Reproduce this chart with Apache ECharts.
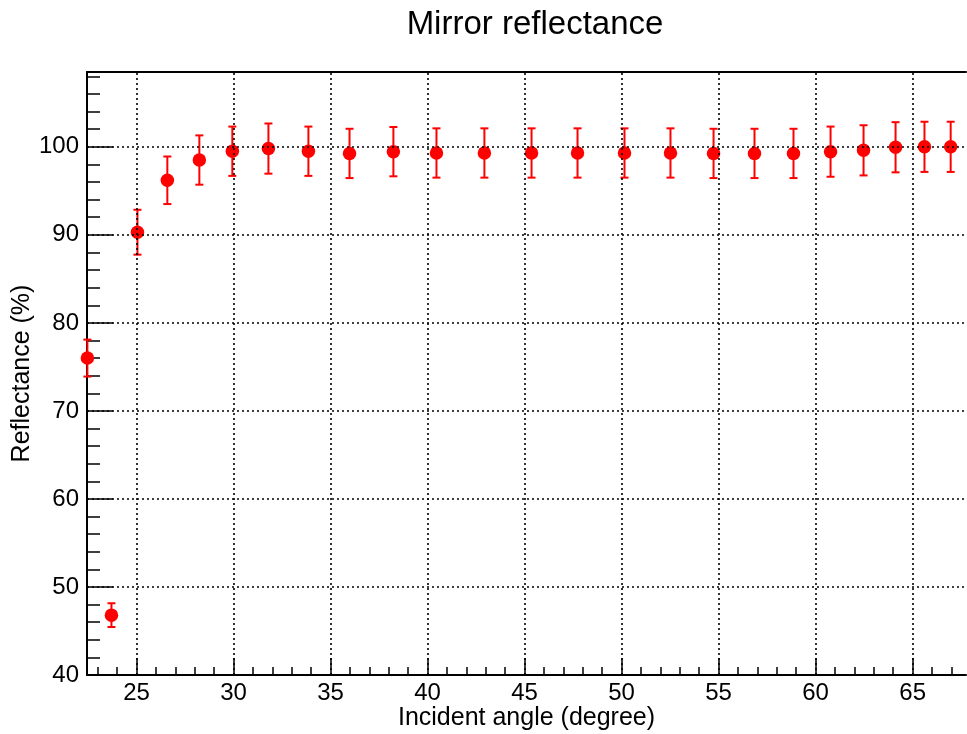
<!DOCTYPE html>
<html>
<head>
<meta charset="utf-8">
<title>Mirror reflectance</title>
<script src="https://cdn.jsdelivr.net/npm/echarts@6/dist/echarts.min.js"></script>
<style>
  html, body { margin: 0; padding: 0; background: #fff; }
  #main { width: 967px; height: 734px; }
</style>
</head>
<body>
<div id="main"></div>
<script>
// incident angle (degree) and measured reflectance (%) with errors
var angle = [22.47, 23.71, 25.05, 26.59, 28.24, 29.94, 31.8, 33.86, 35.98, 38.24, 40.46, 42.93,
  45.36, 47.73, 50.15, 52.52, 54.74, 56.85, 58.86, 60.77, 62.47, 64.12, 65.61, 66.96];
var reflectance = [76.0, 46.8, 90.3, 96.2, 98.5, 99.5, 99.8, 99.5, 99.25, 99.45, 99.3, 99.3,
  99.3, 99.3, 99.3, 99.3, 99.25, 99.25, 99.25, 99.45, 99.6, 99.95, 100.0, 100.0];
var errors = [2.1, 1.35, 2.55, 2.7, 2.8, 2.8, 2.85, 2.8, 2.8, 2.8, 2.8, 2.8,
  2.8, 2.8, 2.8, 2.8, 2.8, 2.8, 2.8, 2.85, 2.85, 2.85, 2.85, 2.85];

// tick labels
var xMajor = [25, 30, 35, 40, 45, 50, 55, 60, 65];
var xMinor = [23, 24, 26, 27, 28, 29, 31, 32, 33, 34, 36, 37, 38, 39, 41, 42, 43, 44,
  46, 47, 48, 49, 51, 52, 53, 54, 56, 57, 58, 59, 61, 62, 63, 64, 66, 67];
var yMajor = [40, 50, 60, 70, 80, 90, 100];
var yMinor = [42, 44, 46, 48, 52, 54, 56, 58, 62, 64, 66, 68, 72, 74, 76, 78,
  82, 84, 86, 88, 92, 94, 96, 98, 102, 104, 106, 108];
var yGrid = [50, 60, 70, 80, 90, 100];

var X_MIN = 22.45, X_MAX = 67.75, Y_MIN = 40, Y_MAX = 108.5;
var FONT = "'Liberation Sans', Arial, Helvetica, sans-serif";

var chart = echarts.init(document.getElementById('main'));

var points = angle.map(function (a, i) { return [a, reflectance[i]]; });
var bars = angle.map(function (a, i) {
  return [a, reflectance[i] - errors[i], reflectance[i] + errors[i]];
});

var gridLines = xMajor.map(function (v) { return { xAxis: v }; })
  .concat(yGrid.map(function (v) { return { yAxis: v }; }));

function renderErrorBar(params, api) {
  var x = api.value(0);
  var top = api.coord([x, api.value(2)]);
  var bot = api.coord([x, api.value(1)]);
  var w = 4;
  var style = { stroke: '#ff0000', lineWidth: 2 };
  return {
    type: 'group',
    children: [
      { type: 'line', shape: { x1: top[0], y1: top[1], x2: bot[0], y2: bot[1] }, style: style },
      { type: 'line', shape: { x1: top[0] - w, y1: top[1], x2: top[0] + w, y2: top[1] }, style: style },
      { type: 'line', shape: { x1: bot[0] - w, y1: bot[1], x2: bot[0] + w, y2: bot[1] }, style: style }
    ]
  };
}

function baseAxis(extra) {
  return Object.assign({
    type: 'value',
    splitLine: { show: false },
    axisLine: { show: false },
    axisLabel: { show: false },
    axisTick: { show: false }
  }, extra);
}

var option = {
  animation: false,
  backgroundColor: '#fff',
  title: {
    text: 'Mirror reflectance',
    left: 530,
    textAlign: 'center',
    top: 3,
    textStyle: { fontFamily: FONT, fontSize: 33, fontWeight: 'normal', color: '#000' }
  },
  grid: { left: 87, right: 1, top: 72, bottom: 59, outerBoundsMode: 'none', containLabel: false },
  xAxis: [
    baseAxis({
      min: X_MIN, max: X_MAX, position: 'bottom',
      name: 'Incident angle (degree)',
      nameLocation: 'middle',
      nameGap: 31,
      nameMoveOverlap: false,
      nameTextStyle: { fontFamily: FONT, fontSize: 25, color: '#000' },
      axisLine: { show: true, onZero: false, lineStyle: { color: '#000', width: 2 } },
      axisTick: { show: true, inside: true, length: 17, customValues: xMajor, lineStyle: { color: '#000', width: 1.5 } },
      axisLabel: { show: true, customValues: xMajor, margin: 6, fontFamily: FONT, fontSize: 24, color: '#000' }
    }),
    baseAxis({
      min: X_MIN, max: X_MAX, position: 'bottom',
      axisTick: { show: true, inside: true, length: 8, customValues: xMinor, lineStyle: { color: '#000', width: 1.5 } }
    }),
    baseAxis({
      min: X_MIN, max: X_MAX, position: 'top',
      axisLine: { show: true, onZero: false, lineStyle: { color: '#000', width: 2 } }
    })
  ],
  yAxis: [
    baseAxis({
      min: Y_MIN, max: Y_MAX, position: 'left',
      name: 'Reflectance (%)',
      nameLocation: 'middle',
      nameGap: 52,
      nameMoveOverlap: false,
      nameTextStyle: { fontFamily: FONT, fontSize: 25, color: '#000' },
      axisLine: { show: true, onZero: false, lineStyle: { color: '#000', width: 2 } },
      axisTick: { show: true, inside: true, length: 26, customValues: yMajor, lineStyle: { color: '#000', width: 1.5 } },
      axisLabel: { show: true, customValues: yMajor, margin: 8, fontFamily: FONT, fontSize: 24, color: '#000' }
    }),
    baseAxis({
      min: Y_MIN, max: Y_MAX, position: 'left',
      axisTick: { show: true, inside: true, length: 13, customValues: yMinor, lineStyle: { color: '#000', width: 1.5 } }
    })
  ],
  series: [
    {
      type: 'line',
      xAxisIndex: 0, yAxisIndex: 0,
      data: [],
      z: 1,
      silent: true,
      markLine: {
        silent: true,
        symbol: ['none', 'none'],
        label: { show: false },
        lineStyle: { color: '#000', width: 1.6, type: [2, 3] },
        data: gridLines
      }
    },
    {
      type: 'custom',
      xAxisIndex: 0, yAxisIndex: 0,
      renderItem: renderErrorBar,
      data: bars,
      z: 3
    },
    {
      type: 'scatter',
      xAxisIndex: 0, yAxisIndex: 0,
      symbol: 'circle',
      symbolSize: 13.5,
      itemStyle: { color: '#ff0000', opacity: 1 },
      data: points,
      clip: false,
      z: 4
    }
  ]
};

chart.setOption(option);
</script>
</body>
</html>
